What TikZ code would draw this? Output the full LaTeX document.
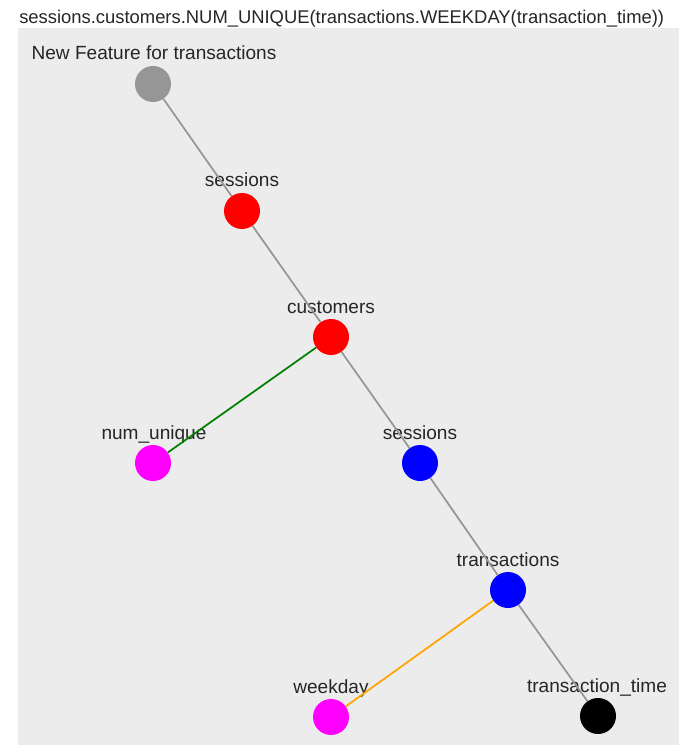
\documentclass[tikz,border=0pt]{standalone}
\usepackage{fontspec}
\setmainfont{Liberation Sans}
\usepackage{tikz}
\usetikzlibrary{arrows.meta}

\definecolor{panelgray}{RGB}{236,236,236}
\definecolor{nodegray}{RGB}{150,150,150}
\definecolor{edgegray}{RGB}{150,150,150}
\definecolor{edgegreen}{RGB}{0,128,0}
\definecolor{edgeorange}{RGB}{255,165,0}
\definecolor{primmagenta}{RGB}{255,0,255}

\tikzset{
    feat/.style={circle, inner sep=0pt, minimum size=27pt, draw=none},
    lbl/.style={font=\fontsize{14.3}{16}\selectfont, text=black!85, inner sep=0pt, anchor=base},
    edge/.style={line width=1.3pt, draw=edgegray}
}

\begin{document}
\begin{tikzpicture}[x=0.75pt, y=-0.75pt]

\useasboundingbox (0,0) rectangle (679,745);

% Panel
\fill[panelgray] (18,28) rectangle (679,745);

% Title
\node[lbl, anchor=base west, font=\fontsize{13.8}{16}\selectfont] (title) at (19,24) {sessions.customers.NUM\_UNIQUE(transactions.WEEKDAY(transaction\_time))};

% Feature nodes
\node[feat, fill=nodegray] (root) at (153,84) {};
\node[feat, fill=red] (sess1) at (242,211) {};
\node[feat, fill=red] (cust) at (331,337) {};
\node[feat, fill=primmagenta] (nunique) at (153,463) {};
\node[feat, fill=blue] (sess2) at (420,463) {};
\node[feat, fill=blue] (trans) at (508,590) {};
\node[feat, fill=primmagenta] (wday) at (331,717) {};
\node[feat, fill=black] (ttime) at (598,716) {};

% Labels
\node[lbl] (lroot) at (154,60) {New Feature for transactions};
\node[lbl] (lsess1) at (242,187) {sessions};
\node[lbl] (lcust) at (331,313) {customers};
\node[lbl] (lnunique) at (154,439) {num\_unique};
\node[lbl] (lsess2) at (420,439) {sessions};
\node[lbl] (ltrans) at (508,566) {transactions};
\node[lbl] (lwday) at (331,693) {weekday};
\node[lbl] (lttime) at (597,692) {transaction\_time};

% Edges
\draw[edge] (root) -- (sess1);
\draw[edge] (sess1) -- (cust);
\draw[edge] (cust) -- (sess2);
\draw[edge] (sess2) -- (trans);
\draw[edge] (trans) -- (ttime);
\draw[edge, draw=edgegreen] (cust) -- (nunique);
\draw[edge, draw=edgeorange] (trans) -- (wday);

\end{tikzpicture}
\end{document}
